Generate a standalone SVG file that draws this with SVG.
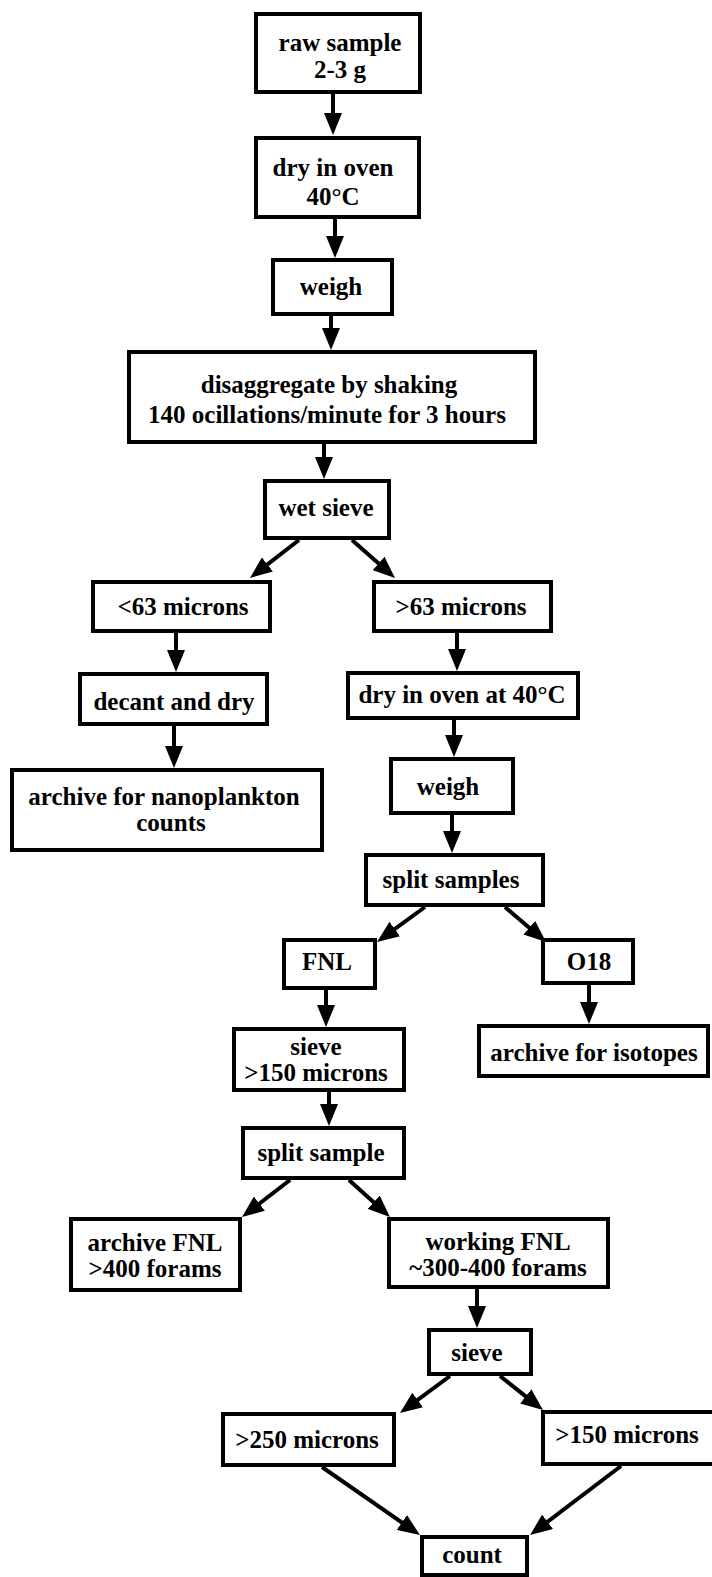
<svg xmlns="http://www.w3.org/2000/svg" width="712" height="1577" viewBox="0 0 712 1577">
<style>
rect{fill:#fff;stroke:#000;stroke-width:4}
text{font-family:"Liberation Serif","Times New Roman",serif;font-weight:bold;font-size:25px;text-anchor:middle;fill:#000}
.c line{stroke:#000;stroke-width:4;marker-end:url(#ah)}
</style>
<defs>
<marker id="ah" viewBox="0 0 22 18" refX="10" refY="9" markerWidth="22" markerHeight="18" markerUnits="userSpaceOnUse" orient="auto"><path d="M0,0 L22,9 L0,18 z" fill="#000"/></marker>
</defs>
<rect x="0" y="0" width="712" height="1577" style="stroke:none"/>
<g class="c" id="connectors">
<line x1="333" y1="94" x2="333" y2="123"/>
<line x1="335" y1="219" x2="335" y2="246"/>
<line x1="331" y1="316" x2="331" y2="338"/>
<line x1="324" y1="444" x2="324" y2="467"/>
<line x1="299" y1="540" x2="259.5" y2="570.6"/>
<line x1="352" y1="540" x2="386" y2="570.1"/>
<line x1="176" y1="633" x2="176" y2="660"/>
<line x1="457" y1="633" x2="457" y2="659"/>
<line x1="174" y1="726" x2="174" y2="756"/>
<line x1="454" y1="720" x2="454" y2="745"/>
<line x1="452" y1="815" x2="452" y2="841"/>
<line x1="425" y1="907" x2="386.7" y2="934.9"/>
<line x1="505" y1="907" x2="536.9" y2="934.2"/>
<line x1="326" y1="990" x2="326" y2="1015"/>
<line x1="589" y1="985" x2="589" y2="1012"/>
<line x1="329" y1="1092" x2="329" y2="1114"/>
<line x1="290" y1="1180" x2="251.5" y2="1209.7"/>
<line x1="349" y1="1180" x2="381.1" y2="1209"/>
<line x1="477" y1="1289" x2="477" y2="1316"/>
<line x1="450" y1="1376" x2="409.6" y2="1405.9"/>
<line x1="500" y1="1376" x2="533.6" y2="1402.6"/>
<line x1="322" y1="1467" x2="410.1" y2="1528.2"/>
<line x1="621" y1="1466" x2="539.6" y2="1527.8"/>
</g>
<g id="raw"><rect x="256" y="14" width="164" height="78"/><text x="340" y="51">raw sample</text><text x="340" y="78">2-3 g</text></g>
<g id="dry1"><rect x="256" y="138" width="163" height="79"/><text x="333" y="176">dry in oven</text><text x="333" y="205">40°C</text></g>
<g id="weigh1"><rect x="273" y="260" width="119" height="54"/><text x="331" y="295">weigh</text></g>
<g id="disagg"><rect x="129" y="352" width="406" height="90"/><text x="329" y="393">disaggregate by shaking</text><text x="327" y="423">140 ocillations/minute for 3 hours</text></g>
<g id="wetsieve"><rect x="265" y="481" width="124" height="57"/><text x="326" y="516">wet sieve</text></g>
<g id="lt63"><rect x="93" y="582" width="177" height="49"/><text x="183" y="615">&lt;63 microns</text></g>
<g id="gt63"><rect x="374" y="582" width="177" height="49"/><text x="461" y="615">&gt;63 microns</text></g>
<g id="decant"><rect x="80" y="674" width="187" height="50"/><text x="174" y="710">decant and dry</text></g>
<g id="nanno"><rect x="12" y="770" width="310" height="80"/><text x="164" y="805">archive for nanoplankton</text><text x="171" y="831">counts</text></g>
<g id="dry2"><rect x="348" y="673" width="230" height="45"/><text x="462" y="703">dry in oven at 40°C</text></g>
<g id="weigh2"><rect x="391" y="759" width="122" height="54"/><text x="448" y="795">weigh</text></g>
<g id="split1"><rect x="366" y="855" width="177" height="50"/><text x="451" y="888">split samples</text></g>
<g id="fnl"><rect x="284" y="940" width="91" height="48"/><text x="327" y="970">FNL</text></g>
<g id="o18"><rect x="543" y="940" width="90" height="43"/><text x="589" y="970">O18</text></g>
<g id="sieve150"><rect x="234" y="1029" width="170" height="61"/><text x="316" y="1055">sieve</text><text x="316" y="1081">&gt;150 microns</text></g>
<g id="isotopes"><rect x="479" y="1026" width="229" height="50"/><text x="594" y="1061">archive for isotopes</text></g>
<g id="split2"><rect x="243" y="1128" width="161" height="50"/><text x="321" y="1161">split sample</text></g>
<g id="archfnl"><rect x="71" y="1219" width="169" height="71"/><text x="155" y="1251">archive FNL</text><text x="155" y="1277">&gt;400 forams</text></g>
<g id="workfnl"><rect x="389" y="1219" width="219" height="68"/><text x="498" y="1250">working FNL</text><text x="498" y="1276">~300-400 forams</text></g>
<g id="sieve2"><rect x="429" y="1330" width="102" height="44"/><text x="477" y="1361">sieve</text></g>
<g id="gt250"><rect x="223" y="1414" width="171" height="51"/><text x="307" y="1448">&gt;250 microns</text></g>
<g id="gt150"><rect x="543" y="1412" width="175" height="52"/><text x="627" y="1443">&gt;150 microns</text></g>
<g id="count"><rect x="422" y="1537" width="105" height="38"/><text x="472" y="1563">count</text></g>
</svg>
